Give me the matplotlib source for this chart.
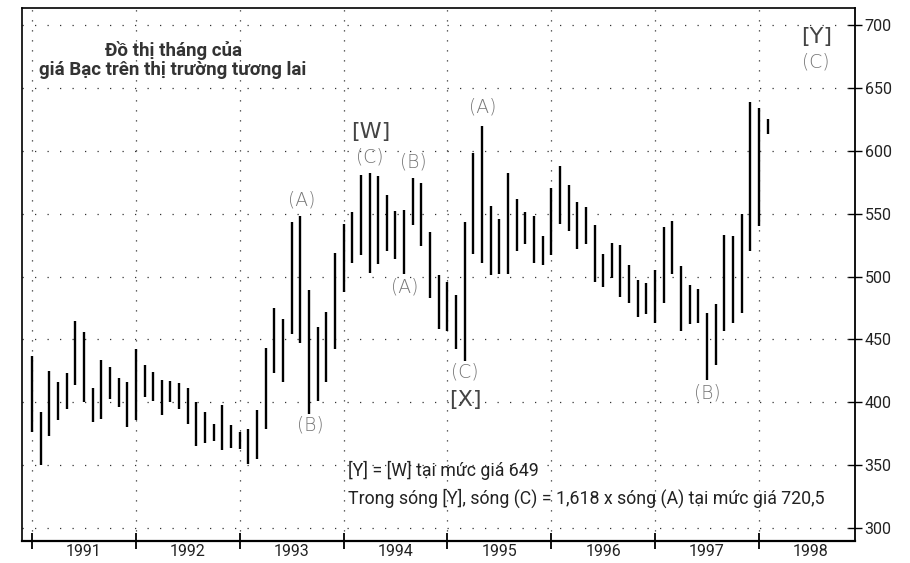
import matplotlib
matplotlib.use("Agg")
import matplotlib.pyplot as plt
from matplotlib import font_manager as fm

# ---- data (monthly silver futures, Jan 1991 .. Feb 1998) ----
months = list(range(86))
highs = [437, 392, 425, 416, 423, 465, 456, 411, 434, 428, 419, 416,
         442, 430, 424, 418, 417, 415, 411, 400, 392, 383, 398, 382,
         376, 379, 394, 443, 475, 466, 543, 548, 489, 460, 472, 519,
         542, 551, 581, 582, 580, 565, 552, 553, 578, 574,
         535, 501, 496, 485, 543, 598, 620, 556, 546, 582, 562, 551, 548, 532,
         570, 588, 573, 559, 555, 541, 518, 527, 525, 509, 497, 495,
         505, 539, 544, 508, 493, 490, 471, 478, 533, 532, 550, 639,
         634, 625]
lows = [376, 350, 373, 386, 395, 414, 400, 384, 387, 403, 396, 380,
        386, 404, 401, 390, 400, 395, 383, 365, 368, 369, 362, 364,
        363, 351, 355, 379, 423, 416, 454, 447, 391, 401, 416, 442,
        488, 511, 517, 503, 510, 520, 514, 502, 541, 524,
        483, 458, 457, 442, 433, 518, 511, 501, 502, 502, 520, 526, 511, 509,
        517, 542, 536, 522, 526, 496, 492, 499, 484, 479, 468, 470,
        463, 479, 502, 457, 462, 463, 418, 430, 457, 463, 471, 520,
        540, 613]
year_labels = ["1991", "1992", "1993", "1994", "1995", "1996", "1997", "1998"]
year_starts = [0, 12, 24, 36, 48, 60, 72, 84]
price_ticks = [300, 350, 400, 450, 500, 550, 600, 650, 700]

wave_labels = ["(A)", "(B)", "(C)", "(B)", "(A)", "(A)", "(C)", "(B)", "(C)"]
wave_x = [31.2, 32.1, 39.05, 44.1, 43.1, 52.1, 50.0, 78.0, 90.6]
wave_y = [560.8, 381.9, 595.3, 591.3, 491.9, 635.0, 424.3, 407.1, 670.8]
degree_labels = ["[W]", "[X]", "[Y]"]
degree_x = [39.1, 50.1, 90.7]
degree_y = [615.2, 401.8, 690.7]

title_text = "Đồ thị tháng của\ngiá Bạc trên thị trường tương lai"
note1 = "[Y] = [W] tại mức giá 649"
note2 = "Trong sóng [Y], sóng (C) = 1,618 x sóng (A) tại mức giá 720,5"

# ---- fonts ----
avail = {f.name for f in fm.fontManager.ttflist}
narrow = "Liberation Sans Narrow" if "Liberation Sans Narrow" in avail else "Roboto"
plt.rcParams['font.family'] = [narrow, 'DejaVu Sans']

fig = plt.figure(figsize=(9.10, 5.63), dpi=100)
ax = fig.add_axes([22/910, 1-541/563, (855-22)/910, (541-8)/563])

# grid
for p in price_ticks:
    ax.axhline(p, color="#333333", lw=0.9, ls=(0, (1, 9)), zorder=1)
for m in year_starts:
    ax.axvline(m, color="#333333", lw=0.9, ls=(0, (1, 7)), zorder=1)

# bars
ax.vlines(months, lows, highs, colors="black", lw=1.7, zorder=3)

ax.set_xlim(-1.16, 95.1)
ax.set_ylim(289.7, 713.5)

# axes styling
for s in ax.spines.values():
    s.set_color("black")
ax.spines['left'].set_linewidth(1.2)
ax.spines['top'].set_linewidth(1.2)
ax.spines['right'].set_linewidth(1.3)
ax.spines['bottom'].set_linewidth(1.6)

ax.yaxis.tick_right()
ax.set_yticks(price_ticks)
ax.set_yticklabels([str(p) for p in price_ticks])
ax.tick_params(axis='y', direction='inout', length=10, width=1.0, labelsize=11.5,
               pad=2, right=True, left=False, labelcolor="#222222")
ax.set_xticks(year_starts)
ax.set_xticklabels([])
ax.tick_params(axis='x', direction='inout', length=12, width=1.3)
for lbl, m in zip(year_labels, year_starts):
    ax.text(m + 6, -0.006, lbl, transform=ax.get_xaxis_transform(),
            ha="center", va="top", fontsize=11.5, color="#222222")

# annotations
ax.text(16.3, 672, title_text, ha="center", va="center", fontsize=13.5,
        fontweight="bold", color="#333333", linespacing=1.05)
for t, x, y in zip(wave_labels, wave_x, wave_y):
    ax.text(x, y, t, ha="center", va="center", fontsize=13.5, color="#777777",
            family="DejaVu Sans", fontweight="light")
for t, x, y in zip(degree_labels, degree_x, degree_y):
    ax.text(x, y, t, ha="center", va="center", fontsize=16, color="#444444",
            family="DejaVu Sans")
ax.text(36.5, 346, note1, ha="left", va="center", fontsize=12.8, color="#222222")
ax.text(36.5, 324, note2, ha="left", va="center", fontsize=12.8, color="#222222")

fig.savefig("out.png", dpi=100)
